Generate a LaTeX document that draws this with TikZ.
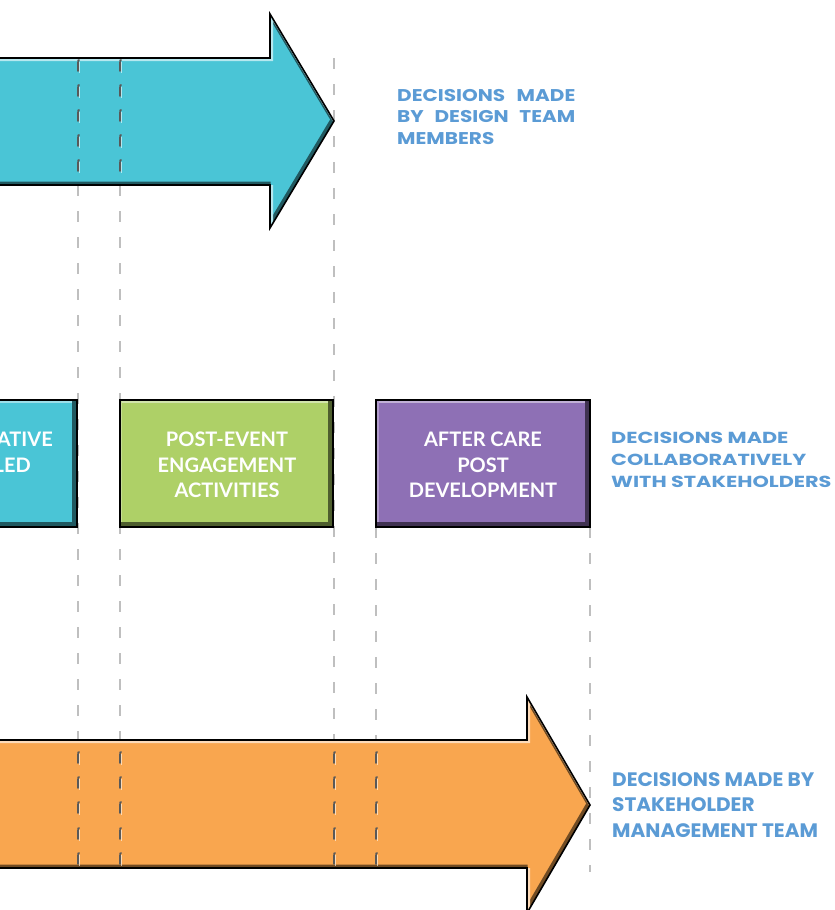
\documentclass[tikz,border=0pt]{standalone}
\usepackage{fontspec}
\setmainfont{Lato}
\newfontfamily\popf{Poppins}
\usetikzlibrary{calc}
\definecolor{cyanA}{HTML}{4AC5D6}
\definecolor{greenA}{HTML}{AED067}
\definecolor{purpA}{HTML}{8E70B5}
\definecolor{orangeA}{HTML}{F9A64F}
\definecolor{lblue}{HTML}{5B9BD5}
\definecolor{dgray}{HTML}{BFBFBF}
\tikzset{
  guide/.style={dgray, line width=1.4pt, dash pattern=on 11pt off 15pt},
  lbltop/.style={text=lblue, font=\popf\bfseries\fontsize{17}{20}\selectfont, inner sep=0pt, anchor=base west},
  lbl/.style={text=lblue, font=\popf\bfseries\fontsize{16}{20}\selectfont, inner sep=0pt, anchor=base west},
  lblbig/.style={text=lblue, font=\popf\bfseries\fontsize{19.5}{23}\selectfont, inner sep=0pt, anchor=base west},
  boxtxt/.style={text=white, font=\bfseries\fontsize{20}{25}\selectfont, inner sep=0pt, anchor=base},
  boxtxtr/.style={text=white, font=\bfseries\fontsize{20}{25}\selectfont, inner sep=0pt, anchor=base east},
  stagebox/.style={draw=none, minimum width=213pt, minimum height=127pt, inner sep=0pt},
  stitch/.style={black!65, line width=1.6pt, line cap=round},
  stitchhi/.style={white, opacity=0.6, line width=1pt},
}
\newcommand\wide[2]{\scalebox{#1}[1]{#2}}
\newcommand\bevelbox[2]{%
  \fill[#2!55!white] (#1.north west) rectangle ($(#1.north east)+(0,3)$);
  \fill[#2!70!white] (#1.north west) rectangle ($(#1.south west)+(2.5,0)$);
  \fill[#2!45!black] ($(#1.north east)+(-5,0)$) rectangle (#1.south east);
  \fill[#2!45!black] ($(#1.south west)+(0,-5)$) rectangle (#1.south east);
  \draw[black, line width=2pt] (#1.north west) rectangle (#1.south east);
}
\def\toparrow{(-10,58) -- (270,58) -- (270,14) -- (334,121) -- (270,228) -- (270,185) -- (-10,185) -- cycle}
\def\botarrow{(-10,740) -- (527,740) -- (527,697) -- (590,805) -- (527,913) -- (527,868) -- (-10,868) -- cycle}
\newcommand\arrowfx[2]{%
  \fill[#1] #2;
  \begin{scope}
    \clip #2;
    \draw[#1!45!black, line width=4pt, shift={(-1.5,-1.5)}] #2;
    \draw[#1!40!white, line width=3pt, shift={(1.5,1.5)}] #2;
  \end{scope}
  \draw[black, line width=1.6pt, line join=miter] #2;
}
\begin{document}
\begin{tikzpicture}[x=1pt,y=-1pt]
\useasboundingbox (0,0) rectangle (835,910);
\clip (0,0) rectangle (835,910);

% guide coordinates
\coordinate (ga1) at (78,185);  \coordinate (ga2) at (78,740);
\coordinate (gb1) at (120,185); \coordinate (gb2) at (120,740);
\coordinate (gc1) at (334,58);  \coordinate (gc2) at (334,740);
\coordinate (gd1) at (376,527); \coordinate (gd2) at (376,740);
\coordinate (ge1) at (590,527); \coordinate (ge2) at (590,872);
\draw[guide] (ga1) -- (ga2);
\draw[guide] (gb1) -- (gb2);
\draw[guide] (gc1) -- (gc2);
\draw[guide] (gd1) -- (gd2);
\draw[guide] (ge1) -- (ge2);

% arrows
\arrowfx{cyanA}{\toparrow}
\arrowfx{orangeA}{\botarrow}

% stitches in top arrow
\foreach \x in {78,120}{
  \foreach \y in {66,91,116,141,166}{
    \draw[stitchhi] (\x+1.6,\y-4) -- (\x+1.6,\y+7);
    \draw[stitch] (\x+1.2,\y-6) .. controls (\x,\y-6) .. (\x,\y-3) -- (\x,\y+5);
  }
}
% stitches in bottom arrow
\foreach \x in {78,120,334,376}{
  \foreach \y in {758,783,808,834,859}{
    \draw[stitchhi] (\x+1.6,\y-4) -- (\x+1.6,\y+7);
    \draw[stitch] (\x+1.2,\y-6) .. controls (\x,\y-6) .. (\x,\y-3) -- (\x,\y+5);
  }
}

% boxes
\node[stagebox, fill=cyanA, minimum width=217pt] (b1) at (-31.5,463.5) {};
\bevelbox{b1}{cyanA}
\node[stagebox, fill=greenA] (b2) at (226.5,463.5) {};
\bevelbox{b2}{greenA}
\node[stagebox, fill=purpA] (b3) at (483,463.5) {};
\bevelbox{b3}{purpA}

% box texts
\node[boxtxtr] (b1a) at (53,446) {ATIVE};
\node[boxtxtr] (b1b) at (31,472) {LED};
\node[boxtxt] (b2a) at (227,446) {POST-EVENT};
\node[boxtxt] (b2b) at (227,472) {ENGAGEMENT};
\node[boxtxt] (b2c) at (227,497) {ACTIVITIES};
\node[boxtxt] (b3a) at (483,446) {AFTER CARE};
\node[boxtxt] (b3b) at (483,472) {POST};
\node[boxtxt] (b3c) at (483,497) {DEVELOPMENT};

% labels
\node[lbltop] (l1a) at (397,101) {\wide{1.18}{\makebox[151pt][s]{DECISIONS MADE}}};
\node[lbltop] (l1b) at (397,122) {\wide{1.18}{\makebox[151pt][s]{BY DESIGN TEAM}}};
\node[lbltop] (l1c) at (397,144) {\wide{1.18}{MEMBERS}};
\node[lbl] (l2a) at (611,443) {\wide{1.3}{DECISIONS MADE}};
\node[lbl] (l2b) at (611,465) {\wide{1.3}{COLLABORATIVELY}};
\node[lbl] (l2c) at (611,487) {\wide{1.3}{WITH STAKEHOLDERS}};
\node[lblbig] (l3a) at (612,786) {\wide{1.03}{DECISIONS MADE BY}};
\node[lblbig] (l3b) at (612,811) {\wide{1.03}{STAKEHOLDER}};
\node[lblbig] (l3c) at (612,837) {\wide{1.03}{MANAGEMENT TEAM}};
\end{tikzpicture}
\end{document}
